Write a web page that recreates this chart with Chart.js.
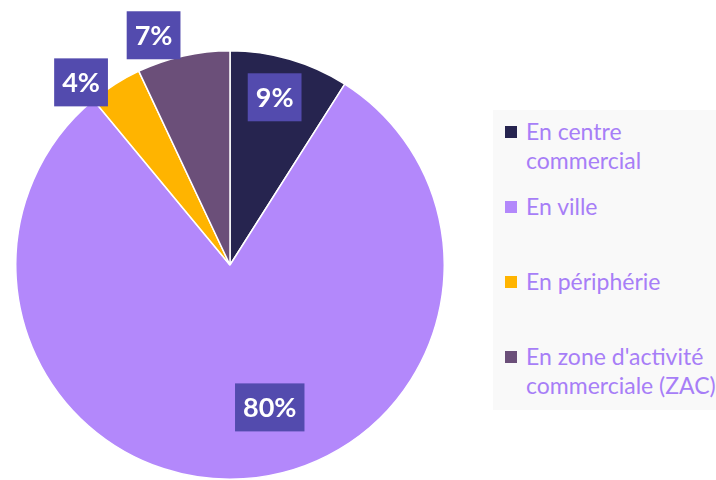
<!DOCTYPE html>
<html>
<head>
<meta charset="utf-8">
<script src="https://cdn.jsdelivr.net/npm/chart.js@4/dist/chart.umd.min.js"></script>
<style>
  html, body { margin: 0; padding: 0; background: #fff; }
  #wrap { position: relative; width: 716px; height: 480px; overflow: hidden; }
  #chartBox { position: absolute; left: 0; top: 0; width: 460px; height: 480px; }
  #legend {
    position: absolute; left: 493px; top: 110px; width: 240px; height: 300px;
    background: #f9f9f9; font-family: Lato, 'Open Sans', sans-serif; font-size: 23px;
    color: #a77ef7; line-height: 29px;
  }
  .item { position: absolute; left: 33px; white-space: nowrap; }
  .item i { position: absolute; left: -21px; top: 9px; width: 12px; height: 12px; }
</style>
</head>
<body>
<div id="wrap">
  <div id="chartBox"><canvas id="pieChart"></canvas></div>
  <div id="legend"></div>
</div>
<script>
const categories = [['En centre', 'commercial'], ['En ville'], ['En périphérie'], ["En zone d'activité", 'commerciale (ZAC)']];
const values = [9, 80, 4, 7];
const colors = ['#26244f', '#b388fb', '#ffb400', '#6b4f79'];

// position des étiquettes : fraction du rayon et décalage d'angle (degrés)
const labelRadius = [0.81, 0.69, 1.1, 1.13];
const labelShift = [-1.3, -12, -6.8, -5.8];

const labelPlugin = {
    id: 'boxLabels',
    afterDatasetsDraw(chart) {
        const ctx = chart.ctx;
        const meta = chart.getDatasetMeta(0);
        ctx.save();
        ctx.font = 'bold 27px Lato, "Open Sans", sans-serif';
        ctx.textAlign = 'center';
        ctx.textBaseline = 'middle';
        meta.data.forEach((arc, i) => {
            const mid = (arc.startAngle + arc.endAngle) / 2 + labelShift[i] * Math.PI / 180;
            const r = arc.outerRadius * labelRadius[i];
            const x = arc.x + Math.cos(mid) * r;
            const y = arc.y + Math.sin(mid) * r;
            const text = values[i] + '%';
            const w = ctx.measureText(text).width + 16;
            const h = 48;
            ctx.fillStyle = '#534bae';
            ctx.fillRect(x - w / 2, y - h / 2, w, h);
            ctx.fillStyle = '#ffffff';
            ctx.fillText(text, x, y + 1);
        });
        ctx.restore();
    }
};

const legendEl = document.getElementById('legend');
categories.forEach((lines, i) => {
    const d = document.createElement('div');
    d.className = 'item';
    d.style.top = (7 + i * 75) + 'px';
    d.innerHTML = '<i style="background:' + colors[i] + '"></i>' + lines.join('<br>');
    legendEl.appendChild(d);
});

new Chart(document.getElementById('pieChart'), {
    type: 'pie',
    data: {
        labels: categories.map(l => l.join(' ')),
        datasets: [{
            data: values,
            backgroundColor: colors,
            borderColor: '#ffffff',
            borderWidth: 1.5
        }]
    },
    options: {
        responsive: true,
        maintainAspectRatio: false,
        animation: false,
        layout: { padding: { top: 50, bottom: 0, left: 15, right: 15 } },
        plugins: {
            legend: { display: false },
            tooltip: { enabled: false }
        }
    },
    plugins: [labelPlugin]
});
</script>
</body>
</html>
